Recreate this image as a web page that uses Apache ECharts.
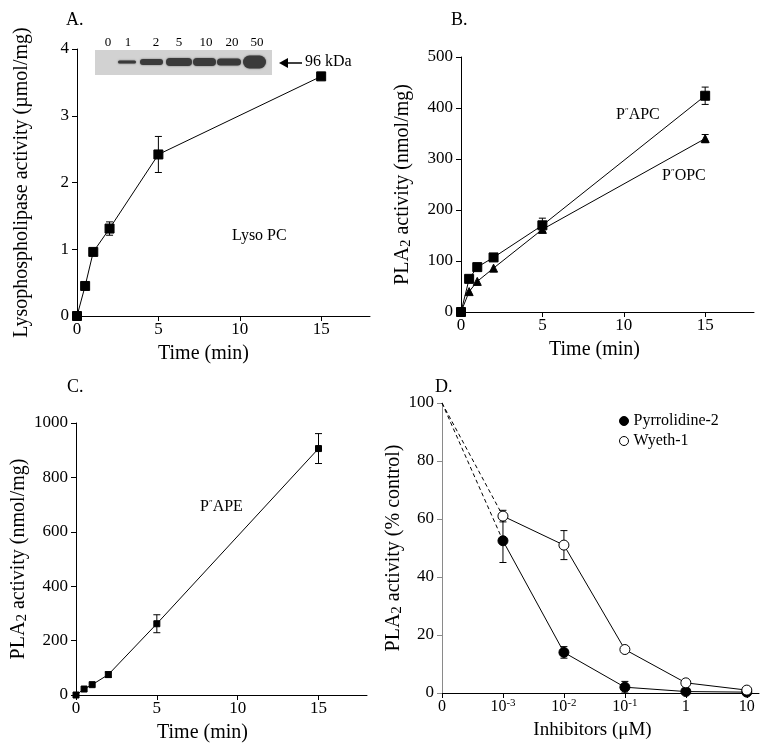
<!DOCTYPE html>
<html>
<head>
<meta charset="utf-8">
<script src="https://cdn.jsdelivr.net/npm/echarts@6/dist/echarts.min.js"></script>
<style>
  html, body { margin: 0; padding: 0; background: #fff; }
  #main { width: 764px; height: 748px; }
</style>
</head>
<body>
<div id="main"></div>
<script>
// panel A - lysophospholipase
var timeA = [0, 0.5, 1, 2, 5, 15];
var lysoPC = [0, 0.45, 0.96, 1.31, 2.42, 3.59];
var lysoPCErr = [0, 0, 0, 0.1, 0.27, 0];
var blotLanes = ['0', '1', '2', '5', '10', '20', '50'];

// panel B
var timeB = [0, 0.5, 1, 2, 5, 15];
var papc = [0, 65, 88, 107, 170, 424];
var papcErr = [0, 0, 0, 0, 14, 17];
var popc = [0, 40, 60, 86, 162, 340];
var popcErr = [0, 0, 0, 0, 5, 8];

// panel C
var timeC = [0, 0.5, 1, 2, 5, 15];
var pape = [0, 22, 38, 75, 262, 906];
var papeErr = [0, 0, 0, 10, 33, 55];

// panel D - inhibitors
var doseLabels = ['0', '10-3', '10-2', '10-1', '1', '10'];
var pyrrolidine = [100, 52.5, 14, 2, 0.5, 0.3];
var pyrrolidineErr = [0, 7.5, 2, 2, 0, 0];
var wyeth = [100, 61, 51, 15, 3.5, 1];
var wyethErr = [0, 2, 5, 0, 0, 0];

var FONT = 'Liberation Serif';
var myChart = echarts.init(document.getElementById('main'));

function pairs(xs, ys) {
    return xs.map(function (x, i) { return [x, ys[i]]; });
}

function errBars(xs, ys, errs, idx) {
    return {
        type: 'custom',
        xAxisIndex: idx,
        yAxisIndex: idx,
        silent: true,
        z: 1,
        encode: {x: 0, y: 1},
        data: xs.map(function (x, i) { return [x, ys[i], errs[i]]; }),
        renderItem: function (params, api) {
            var x = api.value(0), y = api.value(1), e = api.value(2);
            if (!e) return null;
            var t = api.coord([x, y + e]);
            var b = api.coord([x, y - e]);
            var w = 3.5;
            var st = {stroke: '#000', lineWidth: 1};
            return {
                type: 'group',
                children: [
                    {type: 'line', shape: {x1: t[0], y1: t[1], x2: b[0], y2: b[1]}, style: st},
                    {type: 'line', shape: {x1: t[0] - w, y1: t[1], x2: t[0] + w, y2: t[1]}, style: st},
                    {type: 'line', shape: {x1: b[0] - w, y1: b[1], x2: b[0] + w, y2: b[1]}, style: st}
                ]
            };
        }
    };
}

function lineSeries(name, xs, ys, idx, symbol, size, fill) {
    return {
        name: name,
        type: 'line',
        xAxisIndex: idx,
        yAxisIndex: idx,
        data: pairs(xs, ys),
        symbol: symbol,
        symbolSize: size,
        showAllSymbol: true,
        z: 3,
        lineStyle: {color: '#000', width: 1},
        itemStyle: {color: fill || '#000', borderColor: '#000', borderWidth: 1, opacity: 1}
    };
}

function xAxisCfg(idx, max, ticks, name, nameShift) {
    return {
        type: 'value', gridIndex: idx, min: 0, max: max,
        name: name, nameLocation: 'middle', nameGap: 28,
        nameTextStyle: {fontFamily: FONT, fontSize: 20, color: '#000', padding: [0, nameShift, 0, 0]},
        axisLine: {onZero: false, lineStyle: {color: '#000', width: 1}},
        axisTick: {length: 5, customValues: ticks, lineStyle: {color: '#000'}},
        axisLabel: {customValues: ticks, fontFamily: FONT, fontSize: 17, color: '#000', margin: 5},
        splitLine: {show: false}
    };
}

function yAxisCfg(idx, max, interval, name, gap, lineColor) {
    return {
        type: 'value', gridIndex: idx, min: 0, max: max, interval: interval,
        name: name, nameLocation: 'middle', nameGap: gap, nameRotate: 90,
        nameTextStyle: {
            fontFamily: FONT, fontSize: 20, color: '#000', lineHeight: 22,
            rich: {sub: {fontFamily: FONT, fontSize: 15, color: '#000', lineHeight: 12, verticalAlign: 'bottom', padding: [8, 0, 0, 0]}}
        },
        axisLine: {show: true, lineStyle: {color: lineColor || '#000', width: 1}},
        axisTick: {show: true, length: 5, lineStyle: {color: lineColor || '#000'}},
        axisLabel: {fontFamily: FONT, fontSize: 17, color: '#000', margin: 8, formatter: function (v) { return String(v); }},
        splitLine: {show: false}
    };
}

// blot inset (picture of the gel) drawn as plain shapes
var bands = [
    {x: 118, w: 18, h: 3},
    {x: 140, w: 23, h: 6},
    {x: 166, w: 26, h: 8},
    {x: 193, w: 23, h: 8},
    {x: 217, w: 24, h: 7},
    {x: 243, w: 23, h: 13}
];
var laneX = [108, 128, 156, 179, 206, 232, 257];
var graphics = [
    {type: 'rect', left: 95, top: 50, shape: {width: 177, height: 25}, style: {fill: '#d2d2d2'}, z: 10},
    {type: 'polygon', shape: {points: [[279, 63], [288, 58], [288, 68]]}, style: {fill: '#000'}, z: 11},
    {type: 'line', shape: {x1: 286, y1: 63, x2: 302, y2: 63}, style: {stroke: '#000', lineWidth: 1.5}, z: 11},
    {type: 'text', left: 305, top: 54, style: {text: '96 kDa', font: '16px "Liberation Serif"', fill: '#000'}, z: 11}
];
bands.forEach(function (b) {
    graphics.push({
        type: 'rect', shape: {x: b.x, y: 62 - b.h / 2, width: b.w, height: b.h, r: b.h / 2},
        style: {fill: '#3a3a3a', shadowBlur: 2, shadowColor: '#666'}, z: 11
    });
});
blotLanes.forEach(function (t, i) {
    graphics.push({
        type: 'text', x: laneX[i], y: 43,
        style: {text: t, font: '13px "Liberation Serif"', fill: '#000', align: 'center', verticalAlign: 'middle'}, z: 11
    });
});
// panel letters and curve labels
[['A.', 66, 11], ['B.', 451, 11], ['C.', 67, 378], ['D.', 435, 378]].forEach(function (p) {
    graphics.push({type: 'text', left: p[1], top: p[2], style: {text: p[0], font: '18px "Liberation Serif"', fill: '#000'}});
});
graphics.push({type: 'text', left: 232, top: 228, style: {text: 'Lyso PC', font: '16px "Liberation Serif"', fill: '#000'}});
var supRich = {s: {fontSize: 9, fontFamily: FONT, verticalAlign: 'top', lineHeight: 9}};
graphics.push({type: 'text', left: 616, top: 107, style: {
    text: 'P{s|″}APC', font: '16px "Liberation Serif"', fill: '#000', rich: supRich
}});
graphics.push({type: 'text', left: 662, top: 168, style: {
    text: 'P{s|″}OPC', font: '16px "Liberation Serif"', fill: '#000', rich: supRich
}});
graphics.push({type: 'text', left: 200, top: 499, style: {
    text: 'P{s|″}APE', font: '16px "Liberation Serif"', fill: '#000', rich: supRich
}});

var option = {
    backgroundColor: '#fff',
    animation: false,
    graphic: graphics,
    grid: [
        {left: 77, top: 49, width: 293, height: 267},
        {left: 461, top: 57, width: 293, height: 255},
        {left: 76, top: 423, width: 291, height: 272},
        {left: 442, top: 403, width: 317, height: 290}
    ],
    xAxis: [
        xAxisCfg(0, 18, [0, 5, 10, 15], 'Time (min)', 40),
        xAxisCfg(1, 18, [0, 5, 10, 15], 'Time (min)', 26),
        xAxisCfg(2, 18, [0, 5, 10, 15], 'Time (min)', 38),
        (function () {
            var a = xAxisCfg(3, 5.2, [0, 1, 2, 3, 4, 5], 'Inhibitors (μM)', 16);
            a.nameTextStyle.fontSize = 19;
            a.axisLabel.fontSize = 16;
            a.axisLabel.formatter = function (v) {
                var s = doseLabels[Math.round(v)];
                if (s.indexOf('10-') === 0) return '10{sup|' + s.slice(2) + '}';
                return s;
            };
            a.axisLabel.rich = {sup: {fontFamily: FONT, fontSize: 11, color: '#000', verticalAlign: 'top', lineHeight: 10}};
            a.axisLabel.lineHeight = 18;
            return a;
        })()
    ],
    yAxis: [
        yAxisCfg(0, 4, 1, 'Lysophospholipase activity (µmol/mg)', 44),
        yAxisCfg(1, 500, 100, 'PLA{sub|2} activity (nmol/mg)', 47),
        yAxisCfg(2, 1000, 200, 'PLA{sub|2} activity (nmol/mg)', 46),
        yAxisCfg(3, 100, 20, 'PLA{sub|2} activity (% control)', 29, '#8a8a8a')
    ],
    legend: {
        orient: 'vertical',
        left: 619, top: 413,
        itemWidth: 9, itemHeight: 9, itemGap: 4, padding: 0,
        textStyle: {fontFamily: FONT, fontSize: 16, color: '#000'},
        data: [
            {name: 'Pyrrolidine-2', icon: 'circle', itemStyle: {color: '#000', borderColor: '#000', borderWidth: 1}},
            {name: 'Wyeth-1', icon: 'circle', itemStyle: {color: '#fff', borderColor: '#000', borderWidth: 1}}
        ]
    },
    series: [
        errBars(timeA, lysoPC, lysoPCErr, 0),
        lineSeries('Lyso PC', timeA, lysoPC, 0, 'rect', 9),

        errBars(timeB, papc, papcErr, 1),
        errBars(timeB, popc, popcErr, 1),
        lineSeries('PAPC', timeB, papc, 1, 'rect', 9),
        lineSeries('POPC', timeB, popc, 1, 'triangle', 8),

        errBars(timeC, pape, papeErr, 2),
        lineSeries('PAPE', timeC, pape, 2, 'rect', 6),

        {
            name: 'pyr-dash', type: 'line', xAxisIndex: 3, yAxisIndex: 3, symbol: 'none', z: 2,
            data: [[0, pyrrolidine[0]], [1, pyrrolidine[1]]],
            lineStyle: {color: '#000', width: 1, type: [4, 3]}
        },
        {
            name: 'wy-dash', type: 'line', xAxisIndex: 3, yAxisIndex: 3, symbol: 'none', z: 2,
            data: [[0, wyeth[0]], [1, wyeth[1]]],
            lineStyle: {color: '#000', width: 1, type: [4, 3]}
        },
        errBars([1, 2, 3, 4, 5], pyrrolidine.slice(1), pyrrolidineErr.slice(1), 3),
        errBars([1, 2, 3, 4, 5], wyeth.slice(1), wyethErr.slice(1), 3),
        lineSeries('Pyrrolidine-2', [1, 2, 3, 4, 5], pyrrolidine.slice(1), 3, 'circle', 10, '#000'),
        lineSeries('Wyeth-1', [1, 2, 3, 4, 5], wyeth.slice(1), 3, 'circle', 10, '#fff')
    ]
};
myChart.setOption(option);
</script>
</body>
</html>
